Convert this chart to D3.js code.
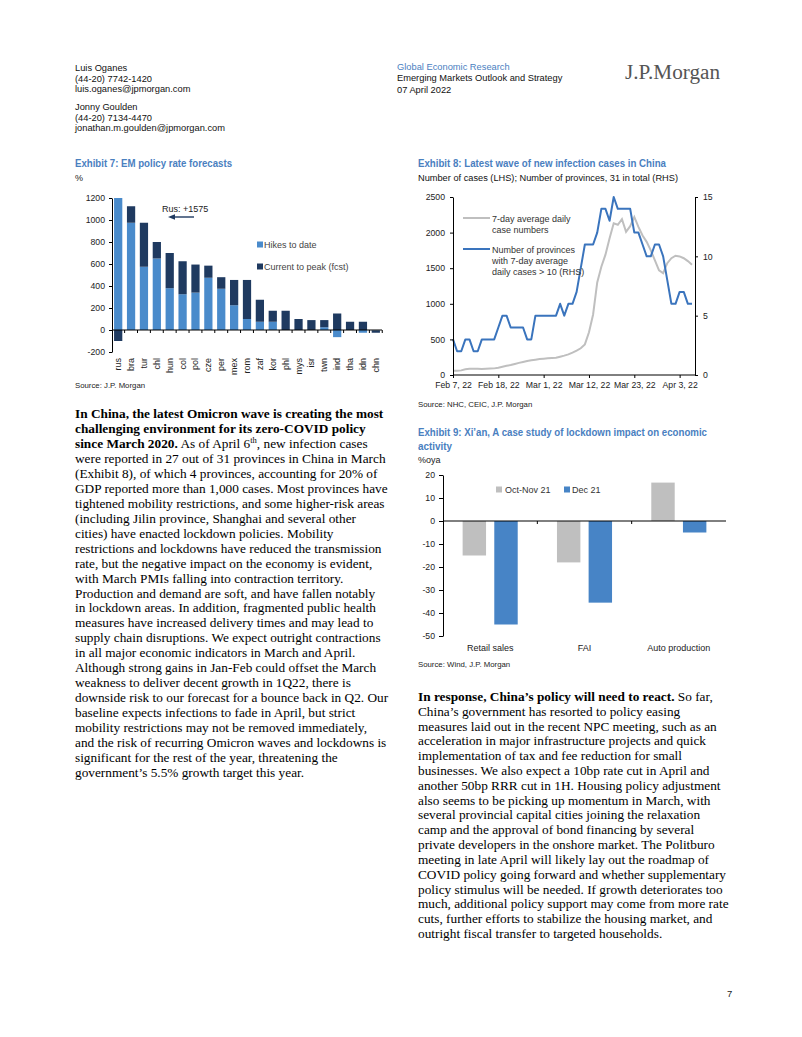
<!DOCTYPE html>
<html><head><meta charset="utf-8">
<script src="https://cdn.jsdelivr.net/npm/d3@7"></script>
<style>html,body{margin:0;padding:0;background:#fff}svg{display:block}</style>
</head><body><svg id="page" width="802" height="1037"></svg>
<script>
// ---------------- DATA ----------------
const ex7Categories = ["rus","bra","tur","chl","hun","col","pol","cze","per","mex","rom","zaf","kor","phl","mys","isr","twn","ind","tha","idn","chn"];
const ex7Hikes     = [1575, 975, 575, 650, 380, 325, 340, 475, 375, 225, 100, 75, 75, 0, 0, 0, 25, -65, 0, -25, -5];
const ex7ToPeak    = [-100, 150, 400, 150, 320, 300, 255, 110, 105, 230, 355, 200, 100, 175, 100, 90, 65, 150, 75, 75, -20];
const ex7YTicks    = [-200, 0, 200, 400, 600, 800, 1000, 1200];
const ex7SeriesNames = ["Hikes to date", "Current to peak (fcst)"];

const ex8StartDate = "2022-02-07";
const ex8Provinces = [3,2,2,3,3,2,2,3,3,3, 3,4,5,5,4,4,4,4,3,3, 5,5,5,5,5,5,6,5,6,6, 7,9,11,11,11,12,14,14,13,15, 14,14,14,14,12,12,11,10,10,11, 11,10,8,6,6,7,7,6,6];
const ex8Cases = [60,60,65,80,88,88,88,85,88,90, 93,103,117,130,140,155,170,183,197,206, 215,225,229,234,239,243,257,272,290,314, 342,375,430,600,850,1300,1520,1690,1920,2130, 2110,2190,2010,2090,2220,2080,1960,1870,1750,1610, 1470,1430,1570,1640,1675,1665,1640,1600,1550];
const ex8TickDates = ["2022-02-07","2022-02-18","2022-03-01","2022-03-12","2022-03-23","2022-04-03"];
const ex8LeftTicks = [0, 500, 1000, 1500, 2000, 2500];
const ex8RightTicks = [0, 5, 10, 15];

const ex9Categories = ["Retail sales", "FAI", "Auto production"];
const ex9OctNov = [-15, -18, 16.7];
const ex9Dec    = [-45, -35.5, -5];
const ex9YTicks = [20, 10, 0, -10, -20, -30, -40, -50];
const ex9SeriesNames = ["Oct-Nov 21", "Dec 21"];

// ---------------- STYLE ----------------
const SANS = "'Liberation Sans', Arial, sans-serif";
const NARROW = "'Liberation Sans Narrow', 'Arial Narrow', 'Liberation Sans', Arial, sans-serif";
const SERIF = "'Liberation Serif', 'Times New Roman', serif";
const TITLE_BLUE = "#4a80bf";
const LIGHT_BLUE = "#4a8bcb";
const NAVY = "#1f3a60";
const GRAY = "#bfbfbf";
const LINE_BLUE = "#3a74bd";
const BAR_BLUE = "#4784c6";
const TICK = 8.7;
const plain = d => String(d);

const svg = d3.select("#page");
svg.append("rect").attr("width", 802).attr("height", 1037).attr("fill", "#fff");

function txt(x, y, s, o = {}) {
  const t = svg.append("text").attr("x", x).attr("y", y)
    .attr("font-family", o.family || SANS)
    .attr("font-size", o.size || 9.5)
    .attr("fill", o.fill || "#000")
    .attr("font-weight", o.weight || "normal")
    .attr("text-anchor", o.anchor || "start")
    .text(s);
  if (o.len) t.attr("textLength", o.len).attr("lengthAdjust", "spacingAndGlyphs");
  return t;
}

// ---------------- HEADER ----------------
const authorLines = [["Luis Oganes", 71], ["(44-20) 7742-1420", 81.5], ["luis.oganes@jpmorgan.com", 92],
  ["Jonny Goulden", 110], ["(44-20) 7134-4470", 120.5], ["jonathan.m.goulden@jpmorgan.com", 131]];
authorLines.forEach(([s, y]) => txt(75, y, s, {size: 9.3, fill: "#111"}));
txt(397, 69.5, "Global Economic Research", {size: 9.3, fill: TITLE_BLUE});
txt(397, 80.5, "Emerging Markets Outlook and Strategy", {size: 9.3, fill: "#111"});
txt(397, 92.5, "07 April 2022", {size: 9.3, fill: "#111"});
txt(625, 79, "J.P.Morgan", {family: SERIF, size: 20.5, fill: "#555", len: 95});

// ---------------- EXHIBIT 7 ----------------
txt(75, 167, "Exhibit 7: EM policy rate forecasts", {family: NARROW, size: 11.5, weight: "bold", fill: TITLE_BLUE, len: 157});
txt(75, 180.5, "%", {size: 9, fill: "#222"});
{
  const g = svg.append("g");
  const y = d3.scaleLinear().domain([-200, 1200]).range([352, 198]);
  const x = d3.scaleBand().domain(ex7Categories).range([112, 382]).paddingInner(0.36).paddingOuter(0.16);
  const bw = x.bandwidth();
  const clampV = v => Math.max(-200, Math.min(1200, v));
  ex7Categories.forEach((c, i) => {
    let pos = 0, neg = 0;
    [[ex7Hikes[i], LIGHT_BLUE], [ex7ToPeak[i], NAVY]].forEach(([v, col]) => {
      let a, b;
      if (v >= 0) { a = pos; b = pos + v; pos = b; } else { a = neg; b = neg + v; neg = b; }
      const y1 = y(clampV(Math.max(a, b))), y2 = y(clampV(Math.min(a, b)));
      if (y2 - y1 > 0) g.append("rect").attr("x", x(c)).attr("width", bw).attr("y", y1).attr("height", y2 - y1).attr("fill", col);
    });
  });
  const ay = g.append("g").attr("transform", "translate(112,0)")
    .call(d3.axisLeft(y).tickValues(ex7YTicks).tickFormat(plain).tickSize(3).tickSizeOuter(0).tickPadding(4));
  ay.selectAll("text").attr("font-family", SANS).attr("font-size", TICK).attr("fill", "#222");
  ay.select(".domain").attr("stroke", "#000");
  g.append("line").attr("x1", 112).attr("x2", 382).attr("y1", y(0)).attr("y2", y(0)).attr("stroke", "#000");
  const step = x.step(), gap = (step - bw) / 2;
  ex7Categories.forEach((c, i) => {
    const bx = x(c) - gap;
    if (i > 0) g.append("line").attr("x1", bx).attr("x2", bx).attr("y1", y(0)).attr("y2", y(0) + 3).attr("stroke", "#000");
  });
  const lx = x(ex7Categories[ex7Categories.length - 1]) + bw + gap;
  g.append("line").attr("x1", lx).attr("x2", lx).attr("y1", y(0)).attr("y2", y(0) + 3).attr("stroke", "#000");
  ex7Categories.forEach(c => {
    g.append("text").attr("transform", `translate(${x(c) + bw / 2 + 3},358) rotate(-90)`)
      .attr("text-anchor", "end").attr("font-family", SANS).attr("font-size", 9).attr("fill", "#222").text(c);
  });
  const leg = [[LIGHT_BLUE, 248], [NAVY, 270]];
  leg.forEach(([col, yy], i) => {
    g.append("rect").attr("x", 257).attr("y", yy - 6.5).attr("width", 6).attr("height", 6).attr("fill", col);
    txt(264, yy, ex7SeriesNames[i], {size: 9, fill: "#444"});
  });
  txt(162, 212, "Rus: +1575", {size: 9, fill: "#222"});
  g.append("line").attr("x1", 194).attr("x2", 174).attr("y1", 217).attr("y2", 217).attr("stroke", NAVY).attr("stroke-width", 1.4);
  g.append("path").attr("d", "M168,217 L175,214.3 L175,219.7 Z").attr("fill", NAVY);
}
txt(75, 388, "Source: J.P. Morgan", {size: 7.8, fill: "#222"});

// ---------------- EXHIBIT 8 ----------------
txt(418, 167, "Exhibit 8: Latest wave of new infection cases in China", {family: NARROW, size: 11.5, weight: "bold", fill: TITLE_BLUE, len: 248});
txt(418, 180.5, "Number of cases (LHS); Number of provinces, 31 in total (RHS)", {size: 8.9, fill: "#111", len: 260});
{
  const g = svg.append("g");
  const parse = d3.timeParse("%Y-%m-%d");
  const start = parse(ex8StartDate);
  const dates = ex8Cases.map((_, i) => d3.timeDay.offset(start, i));
  const x = d3.scaleTime().domain([dates[0], dates[dates.length - 1]]).range([453, 692]);
  const yL = d3.scaleLinear().domain([0, 2500]).range([375, 197]);
  const yR = d3.scaleLinear().domain([0, 15]).range([375, 197]);
  g.append("path").datum(ex8Cases).attr("fill", "none").attr("stroke", GRAY).attr("stroke-width", 2)
    .attr("d", d3.line().x((d, i) => x(dates[i])).y(d => yL(d)));
  g.append("path").datum(ex8Provinces).attr("fill", "none").attr("stroke", LINE_BLUE).attr("stroke-width", 2)
    .attr("stroke-linejoin", "round")
    .attr("d", d3.line().x((d, i) => x(dates[i])).y(d => yR(d)));
  const al = g.append("g").attr("transform", "translate(453,0)")
    .call(d3.axisLeft(yL).tickValues(ex8LeftTicks).tickFormat(plain).tickSize(3).tickSizeOuter(0).tickPadding(5));
  const ar = g.append("g").attr("transform", "translate(695,0)")
    .call(d3.axisRight(yR).tickValues(ex8RightTicks).tickFormat(plain).tickSize(3).tickSizeOuter(0).tickPadding(5));
  g.append("line").attr("x1", 453).attr("x2", 695).attr("y1", 375).attr("y2", 375).attr("stroke", "#000");
  const ab = g.append("g").attr("transform", "translate(0,375)")
    .call(d3.axisBottom(x).tickValues(ex8TickDates.map(parse)).tickFormat(d3.timeFormat("%b %-d, %y")).tickSize(3).tickSizeOuter(0).tickPadding(4));
  ab.select(".domain").remove();
  [al, ar, ab].forEach(a => {
    a.selectAll("text").attr("font-family", SANS).attr("font-size", TICK).attr("fill", "#222");
    a.selectAll(".domain").attr("stroke", "#000");
  });
  g.append("line").attr("x1", 463).attr("x2", 490).attr("y1", 218).attr("y2", 218).attr("stroke", GRAY).attr("stroke-width", 2);
  txt(492, 222, "7-day average daily", {size: 9, fill: "#333"});
  txt(492, 233, "case numbers", {size: 9, fill: "#333"});
  g.append("line").attr("x1", 463).attr("x2", 490).attr("y1", 249).attr("y2", 249).attr("stroke", LINE_BLUE).attr("stroke-width", 2);
  txt(492, 252.5, "Number of provinces", {size: 9, fill: "#333"});
  txt(492, 263.5, "with 7-day average", {size: 9, fill: "#333"});
  txt(492, 274.5, "daily cases > 10 (RHS)", {size: 9, fill: "#333"});
}
txt(418, 407, "Source: NHC, CEIC, J.P. Morgan", {size: 7.8, fill: "#222"});

// ---------------- EXHIBIT 9 ----------------
txt(418, 436, "Exhibit 9: Xi’an, A case study of lockdown impact on economic", {family: NARROW, size: 11.5, weight: "bold", fill: TITLE_BLUE, len: 289});
txt(418, 450, "activity", {family: NARROW, size: 11.5, weight: "bold", fill: TITLE_BLUE, len: 34});
txt(418, 462.5, "%oya", {size: 9, fill: "#222"});
{
  const g = svg.append("g");
  const y = d3.scaleLinear().domain([-50, 20]).range([636, 475]);
  const x = d3.scaleBand().domain(ex9Categories).range([443, 726]);
  const sub = d3.scaleBand().domain([0, 1]).range([0, x.bandwidth()]).paddingInner(0.26).paddingOuter(0.62);
  const cols = [GRAY, BAR_BLUE];
  [ex9OctNov, ex9Dec].forEach((vals, s) => {
    ex9Categories.forEach((c, i) => {
      const v = vals[i];
      g.append("rect").attr("x", x(c) + sub(s)).attr("width", sub.bandwidth())
        .attr("y", y(Math.max(0, v))).attr("height", Math.abs(y(v) - y(0))).attr("fill", cols[s]);
    });
  });
  const ay = g.append("g").attr("transform", "translate(443,0)")
    .call(d3.axisLeft(y).tickValues(ex9YTicks).tickFormat(plain).tickSize(4).tickSizeOuter(0).tickPadding(4));
  ay.selectAll("text").attr("font-family", SANS).attr("font-size", TICK).attr("fill", "#222");
  ay.select(".domain").attr("stroke", "#000");
  g.append("line").attr("x1", 443).attr("x2", 726).attr("y1", y(0)).attr("y2", y(0)).attr("stroke", "#000");
  ex9Categories.slice(1).forEach(c => {
    g.append("line").attr("x1", x(c)).attr("x2", x(c)).attr("y1", y(0)).attr("y2", y(0) + 3).attr("stroke", "#000");
  });
  ex9Categories.forEach(c => {
    txt(x(c) + x.bandwidth() / 2, 651, c, {size: 9, fill: "#222", anchor: "middle"});
  });
  g.append("rect").attr("x", 496).attr("y", 486.5).attr("width", 6).attr("height", 6).attr("fill", GRAY);
  txt(505, 493, ex9SeriesNames[0], {size: 9, fill: "#333"});
  g.append("rect").attr("x", 564).attr("y", 486.5).attr("width", 6).attr("height", 6).attr("fill", BAR_BLUE);
  txt(572, 493, ex9SeriesNames[1], {size: 9, fill: "#333"});
}
txt(418, 667, "Source: Wind, J.P. Morgan", {size: 7.8, fill: "#222"});

// ---------------- BODY TEXT ----------------
const leftPara = [
  "**In China, the latest Omicron wave is creating the most**",
  "**challenging environment for its zero-COVID policy**",
  "**since March 2020.** As of April 6^th^, new infection cases",
  "were reported in 27 out of 31 provinces in China in March",
  "(Exhibit 8), of which 4 provinces, accounting for 20% of",
  "GDP reported more than 1,000 cases. Most provinces have",
  "tightened mobility restrictions, and some higher-risk areas",
  "(including Jilin province, Shanghai and several other",
  "cities) have enacted lockdown policies. Mobility",
  "restrictions and lockdowns have reduced the transmission",
  "rate, but the negative impact on the economy is evident,",
  "with March PMIs falling into contraction territory.",
  "Production and demand are soft, and have fallen notably",
  "in lockdown areas. In addition, fragmented public health",
  "measures have increased delivery times and may lead to",
  "supply chain disruptions. We expect outright contractions",
  "in all major economic indicators in March and April.",
  "Although strong gains in Jan-Feb could offset the March",
  "weakness to deliver decent growth in 1Q22, there is",
  "downside risk to our forecast for a bounce back in Q2. Our",
  "baseline expects infections to fade in April, but strict",
  "mobility restrictions may not be removed immediately,",
  "and the risk of recurring Omicron waves and lockdowns is",
  "significant for the rest of the year, threatening the",
  "government’s 5.5% growth target this year."
];
const rightPara = [
  "**In response, China’s policy will need to react.** So far,",
  "China’s government has resorted to policy easing",
  "measures laid out in the recent NPC meeting, such as an",
  "acceleration in major infrastructure projects and quick",
  "implementation of tax and fee reduction for small",
  "businesses. We also expect a 10bp rate cut in April and",
  "another 50bp RRR cut in 1H. Housing policy adjustment",
  "also seems to be picking up momentum in March, with",
  "several provincial capital cities joining the relaxation",
  "camp and the approval of bond financing by several",
  "private developers in the onshore market. The Politburo",
  "meeting in late April will likely lay out the roadmap of",
  "COVID policy going forward and whether supplementary",
  "policy stimulus will be needed. If growth deteriorates too",
  "much, additional policy support may come from more rate",
  "cuts, further efforts to stabilize the housing market, and",
  "outright fiscal transfer to targeted households."
];
function para(lines, x0, y0, lh) {
  lines.forEach((line, i) => {
    const t = svg.append("text").attr("x", x0).attr("y", y0 + i * lh)
      .attr("font-family", SERIF).attr("font-size", 13.3).attr("fill", "#000");
    const parts = line.split(/(\*\*[^*]+\*\*|\^[^^]+\^)/).filter(p => p.length);
    let supPrev = false;
    parts.forEach(p => {
      const ts = t.append("tspan");
      if (p.startsWith("**")) { ts.attr("font-weight", "bold").text(p.slice(2, -2)); }
      else if (p.startsWith("^")) { ts.attr("font-size", 8.5).attr("dy", -5).text(p.slice(1, -1)); supPrev = true; return; }
      else ts.text(p);
      if (supPrev) { ts.attr("dy", 5); supPrev = false; }
    });
  });
}
para(leftPara, 75, 418, 14.96);
para(rightPara, 418, 701, 14.81);

txt(727, 997, "7", {size: 9.5, fill: "#222"});
</script></body></html>
